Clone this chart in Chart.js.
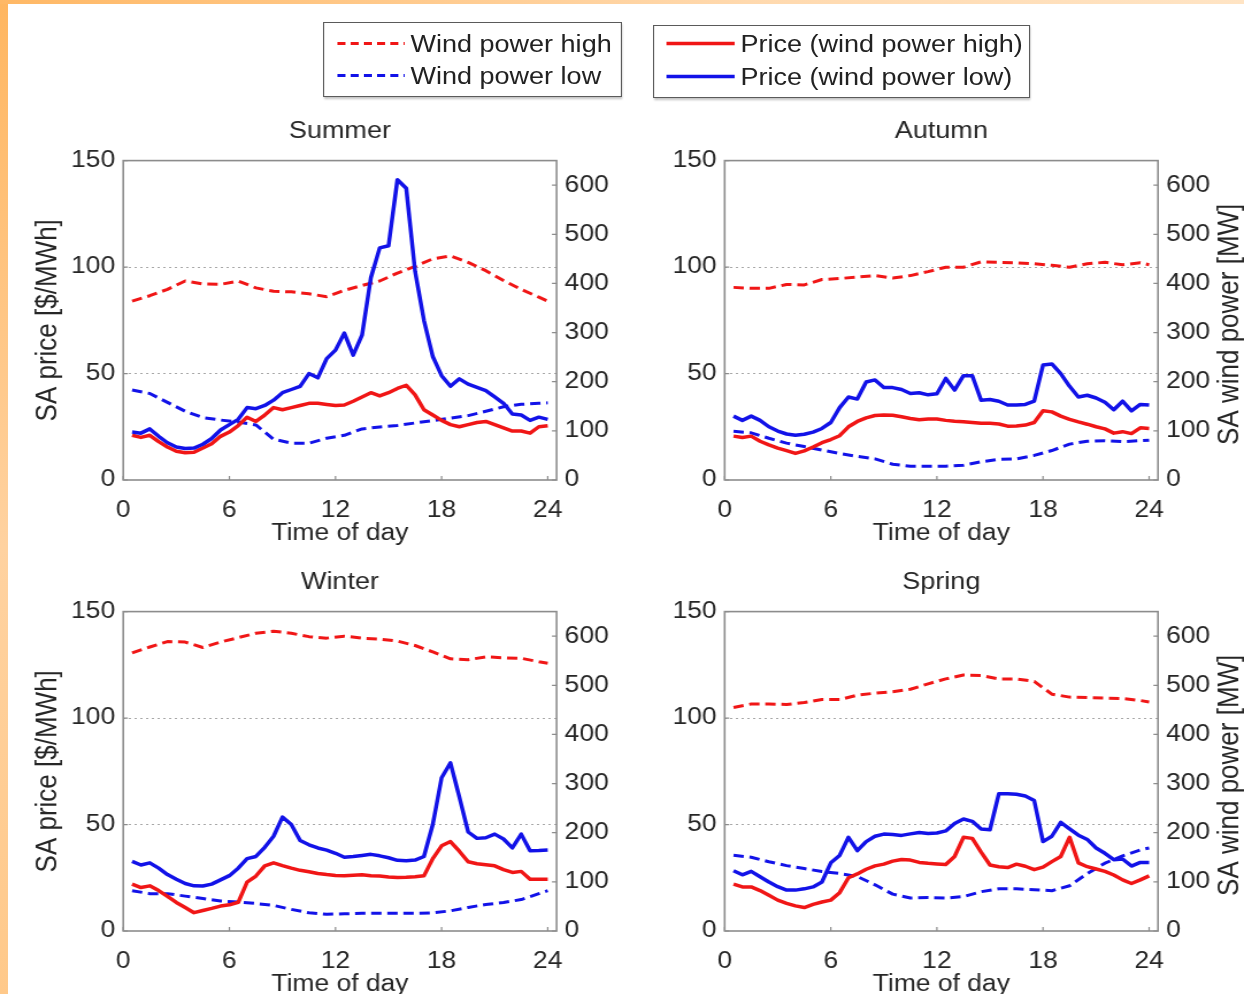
<!DOCTYPE html>
<html><head><meta charset="utf-8">
<script src="https://cdn.jsdelivr.net/npm/chart.js@4.4.1/dist/chart.umd.min.js"></script>
<style>
html,body{margin:0;padding:0;width:1244px;height:994px;overflow:hidden;background:#fff;}
#edgeL{position:absolute;left:0;top:0;width:8px;height:994px;background:linear-gradient(#ffb660,#ffd2a0 55%,#ffc98a);}
#edgeT{position:absolute;left:0;top:0;width:1244px;height:4px;background:linear-gradient(90deg,#ffb865,#ffd9ae 60%,#ffe4c4);}
#stage{position:absolute;left:0;top:0;width:1082px;height:994px;transform:scaleX(1.1497);transform-origin:0 0;font-family:"Liberation Sans",Arial,sans-serif;color:#222;}
#stage canvas{position:absolute;}
.lg{position:absolute;box-sizing:border-box;border:1.5px solid #5a5a5a;background:#fff;box-shadow:1px 2px 2px rgba(0,0,0,.25);}
.lg svg{position:absolute;left:0;top:0;}
.lg span{position:absolute;font-size:23.5px;line-height:28px;white-space:nowrap;color:#222;}
</style></head>
<body>
<div id="edgeL"></div><div id="edgeT"></div>
<div id="stage">
  <div class="lg" style="left:281px;top:22px;width:260px;height:75px;">
    <svg width="257" height="72"><line x1="11.5" y1="20.5" x2="70" y2="20.5" stroke="rgb(240,22,22)" stroke-width="2.8" stroke-dasharray="7,4.5"/><line x1="11.5" y1="52.5" x2="70" y2="52.5" stroke="rgb(18,18,232)" stroke-width="2.8" stroke-dasharray="7,4.5"/></svg>
    <span style="left:75px;top:6.5px;">Wind power high</span>
    <span style="left:75px;top:38.5px;">Wind power low</span>
  </div>
  <div class="lg" style="left:568px;top:25px;width:328px;height:73px;">
    <svg width="325" height="70"><line x1="10.7" y1="17.5" x2="70" y2="17.5" stroke="rgb(240,22,22)" stroke-width="3.6"/><line x1="10.7" y1="50.5" x2="70" y2="50.5" stroke="rgb(18,18,232)" stroke-width="3.6"/></svg>
    <span style="left:75px;top:3.5px;">Price (wind power high)</span>
    <span style="left:75px;top:36.5px;">Price (wind power low)</span>
  </div>
  <canvas id="c0" width="541" height="460" style="left:0;top:100px;"></canvas>
  <canvas id="c1" width="541" height="460" style="left:541px;top:100px;"></canvas>
  <canvas id="c2" width="541" height="460" style="left:0;top:551px;"></canvas>
  <canvas id="c3" width="541" height="460" style="left:541px;top:551px;"></canvas>
</div>
<script>
// ---- data ----
const seasons = ['Summer', 'Autumn', 'Winter', 'Spring'];
const halfHours = [0.5,1,1.5,2,2.5,3,3.5,4,4.5,5,5.5,6,6.5,7,7.5,8,8.5,9,9.5,10,10.5,11,11.5,12,12.5,13,13.5,14,14.5,15,15.5,16,16.5,17,17.5,18,18.5,19,19.5,20,20.5,21,21.5,22,22.5,23,23.5,24];
const hourPts = [0.5,1.5,2.5,3.5,4.5,5.5,6.5,7.5,8.5,9.5,10.5,11.5,12.5,13.5,14.5,15.5,16.5,17.5,18.5,19.5,20.5,21.5,22.5,23.5,24];
const xTicks = [0, 6, 12, 18, 24];
const priceTicks = [0, 50, 100, 150];
const windTicks = [0, 100, 200, 300, 400, 500, 600];

const summerPriceLow  = [22.5,22,24,20.5,17.5,15.5,14.8,15,16.8,19.5,23.5,26,28.5,34,33.5,35,37.5,41,42.5,44,50,48,57,61,69,58.6,68,95,109,110,141,137,98,75,58,49,44,47.5,45,43.5,42,39,36,31,30.5,28,29.5,28.5];
const summerPriceHigh = [21,20,21,18,15.5,13.5,12.8,13,15,17,20.5,22.5,25.5,29.5,27.5,30.5,34,33,34,35,36,36,35.5,35,35.2,37,39,41,39.5,41,43,44.5,40,33,30.5,28,26,25,26,27,27.5,26,24.5,23,23,22,25,25.5];
const summerWindHigh  = [364,375,388,405,399,398,405,391,384,383,379,373,386,396,405,421,435,450,456,443,426,406,388,372,364];
const summerWindLow   = [183,176,158,140,127,122,118,112,83,75,75,85,91,104,108,111,116,121,126,131,140,149,154,156,157];

const autumnPriceLow  = [30,28,30,28,25,23,21.6,21,21.5,22.5,24.2,27,34,39,38,46,47,43.4,43.4,42.5,40.6,41,40,40.5,47.7,42.2,49,49,37.5,37.8,37,35.2,35.2,35.5,37,54,54.5,50,44,39,39.8,38.5,36.5,33,37,32.5,35.5,35.2];
const autumnPriceHigh = [20.6,20,20.6,18.2,16.5,15,13.8,12.5,13.7,15.5,17.5,19,20.8,25,27.5,29.2,30.3,30.5,30.4,29.7,28.9,28.3,28.6,28.6,28,27.6,27.4,27,26.6,26.6,26.3,25.3,25.4,25.8,27,32.5,32,30,28.5,27.3,26.2,25,24,22,22.7,21.8,24.5,24.2];
const autumnWindHigh  = [392,390,390,398,397,408,410,413,416,411,416,424,433,433,444,443,442,440,437,433,440,443,438,442,438];
const autumnWindLow   = [99,96,85,75,68,61,54,48,43,32,28,28,28,30,37,42,43,50,60,73,79,80,78,80,81];

const winterPriceLow  = [32.7,31,32,29.5,26.5,24.3,22.3,21.2,21.1,22,24,26,29.5,34,35,39.3,44.5,53.5,50,42.5,40.5,39,38,36.5,34.6,35,35.5,36,35.3,34.4,33.2,33,33.3,35,50,72,79,63,46.5,43.5,43.8,45.5,43.2,39,45.5,37.7,37.8,38];
const winterPriceHigh = [22,20.4,21.2,19,16.3,13.4,11,8.6,9.6,10.6,11.7,12.3,13.5,23,25.8,30.6,32,30.7,29.5,28.5,27.8,27,26.5,26.1,26,26.2,26.4,26,25.8,25.4,25.1,25.2,25.5,25.9,34,40,42,37.5,32.5,31.6,31.1,30.6,28.8,27.5,28,24.3,24.3,24.3];
const winterWindHigh  = [566,578,589,588,577,588,597,606,610,606,599,596,600,596,594,590,581,568,554,552,558,556,555,548,545];
const winterWindLow   = [82,76,76,71,66,61,59,56,52,44,37,34,35,36,36,36,36,37,41,48,54,58,64,76,82];

const springPriceLow  = [28.3,26.4,28,25.5,23,20.8,19.2,19.2,19.8,20.7,23,32,35.5,44,37.7,42,44.5,45.5,45.3,44.9,45.6,46.3,45.8,46,47,50.5,52.6,51.5,47.9,47.5,64.4,64.4,64.2,63.4,61.3,42,44.5,51,48,45,43,39,36.5,33.5,33.8,30.5,32.2,32.2];
const springPriceHigh = [22,20.7,20.7,19,16.8,14.5,13,11.8,11,12.5,13.6,14.5,18,25,26.8,29,30.6,31.4,32.8,33.6,33.3,32.2,31.8,31.5,31.2,35,44,43.5,37,31,30.2,29.8,31.4,30.4,28.8,30,32.6,35,44,32,30.2,29.1,28,26.3,24,22.3,24,25.9];
const springWindHigh  = [455,462,462,461,465,471,471,480,484,487,492,503,513,521,520,513,513,508,482,476,475,474,473,469,466];
const springWindLow   = [154,150,141,133,127,121,117,111,94,75,67,68,67,70,80,86,86,84,82,92,117,138,153,165,169];

// ---- styling ----
const FONT = '"Liberation Sans", Arial, sans-serif';
const RED = 'rgb(240,22,22)', BLUE = 'rgb(18,18,232)';
const TXT = '#262626', FRAME = '#8c8c8c', GRID = '#a8a8a8';
const colLayout = [{yl: 107.2, yr: 56.9}, {yl: 89.3, yr: 74.8}];

const panels = [
  {id:'c0', col:0, title:seasons[0], pl:summerPriceLow, ph:summerPriceHigh, wh:summerWindHigh, wl:summerWindLow},
  {id:'c1', col:1, title:seasons[1], pl:autumnPriceLow, ph:autumnPriceHigh, wh:autumnWindHigh, wl:autumnWindLow},
  {id:'c2', col:0, title:seasons[2], pl:winterPriceLow, ph:winterPriceHigh, wh:winterWindHigh, wl:winterWindLow},
  {id:'c3', col:1, title:seasons[3], pl:springPriceLow, ph:springPriceHigh, wh:springWindHigh, wl:springWindLow}
];

const frameTicks = {
  id: 'frameTicks',
  afterDraw(chart, args, opts) {
    const {ctx, chartArea: a, scales} = chart;
    ctx.save();
    ctx.strokeStyle = FRAME; ctx.lineWidth = 1.6;
    ctx.strokeRect(a.left, a.top, a.right - a.left, a.bottom - a.top);
    ctx.beginPath();
    const L = 4;
    scales.x.ticks.forEach(t => { const px = scales.x.getPixelForValue(t.value); ctx.moveTo(px, a.bottom); ctx.lineTo(px, a.bottom - L); });
    scales.y.ticks.forEach(t => { const py = scales.y.getPixelForValue(t.value); ctx.moveTo(a.left, py); ctx.lineTo(a.left + L, py); });
    scales.y1.ticks.forEach(t => { const py = scales.y1.getPixelForValue(t.value); ctx.moveTo(a.right, py); ctx.lineTo(a.right - L, py); });
    ctx.lineWidth = 1.2;
    ctx.stroke();
    if (opts.rightTitle) {
      ctx.fillStyle = TXT;
      ctx.font = '26px ' + FONT;
      ctx.textAlign = 'center'; ctx.textBaseline = 'middle';
      ctx.translate(opts.rightX, (a.top + a.bottom) / 2 + 4);
      ctx.rotate(-Math.PI / 2);
      ctx.fillText(opts.rightTitle, 0, 0);
    }
    ctx.restore();
  }
};

function pts(xs, ys) { return xs.map((x, i) => ({x: x, y: ys[i]})); }
function setTicks(arr) { return s => { s.ticks = arr.map(v => ({value: v})); }; }

panels.forEach(p => {
  const lay = colLayout[p.col];
  new Chart(document.getElementById(p.id), {
    type: 'line',
    data: {
      datasets: [
        {label:'Price (wind power low)', data: pts(halfHours, p.pl), yAxisID:'y', borderColor: BLUE, borderWidth: 3.5, order: 0},
        {label:'Price (wind power high)', data: pts(halfHours, p.ph), yAxisID:'y', borderColor: RED, borderWidth: 3.5, order: 1},
        {label:'Wind power low', data: pts(hourPts, p.wl), yAxisID:'y1', borderColor: BLUE, borderWidth: 3, borderDash: [9, 5], order: 2},
        {label:'Wind power high', data: pts(hourPts, p.wh), yAxisID:'y1', borderColor: RED, borderWidth: 3, borderDash: [9, 5], order: 3}
      ]
    },
    options: {
      responsive: false, animation: false, devicePixelRatio: 1,
      layout: {padding: 0},
      elements: {point: {radius: 0}, line: {tension: 0, fill: false, borderJoinStyle: 'round'}},
      plugins: {
        legend: {display: false}, tooltip: {enabled: false},
        title: {display: true, fullSize: false, text: p.title, color: TXT, font: {size: 23.5, family: FONT, weight: 'normal'}, padding: {top: 17.2, bottom: 15.2}},
        frameTicks: p.col === 1 ? {rightTitle: 'SA wind power [MW]', rightX: 528.8} : {}
      },
      scales: {
        x: {
          type: 'linear', min: 0, max: 24.5,
          afterBuildTicks: setTicks(xTicks),
          afterFit: s => { s.height = 80; },
          grid: {display: false}, border: {display: false},
          ticks: {color: TXT, font: {size: 23, family: FONT}, padding: 8.7, maxRotation: 0, autoSkip: false},
          title: {display: true, text: 'Time of day', color: TXT, font: {size: 23, family: FONT}, padding: {top: 0, bottom: 12.2}}
        },
        y: {
          position: 'left', min: 0, max: 150,
          afterBuildTicks: setTicks(priceTicks),
          afterFit: s => { s.width = lay.yl; },
          grid: {color: c => (c.tick && (c.tick.value === 50 || c.tick.value === 100)) ? GRID : 'rgba(0,0,0,0)', lineWidth: 1, drawTicks: false},
          border: {display: false, dash: [2, 3]},
          ticks: {color: TXT, font: {size: 23, family: FONT}, padding: 7},
          title: p.col === 0 ? {display: true, text: 'SA price [$/MWh]', color: TXT, font: {size: 26, family: FONT}, padding: {top: 26.5, bottom: 0}} : {display: false}
        },
        y1: {
          position: 'right', min: 0, max: 650,
          afterBuildTicks: setTicks(windTicks),
          afterFit: s => { s.width = lay.yr; },
          grid: {drawOnChartArea: false, drawTicks: false},
          border: {display: false},
          ticks: {color: TXT, font: {size: 23, family: FONT}, padding: 7}
        }
      }
    },
    plugins: [frameTicks]
  });
});
</script>
</body></html>
